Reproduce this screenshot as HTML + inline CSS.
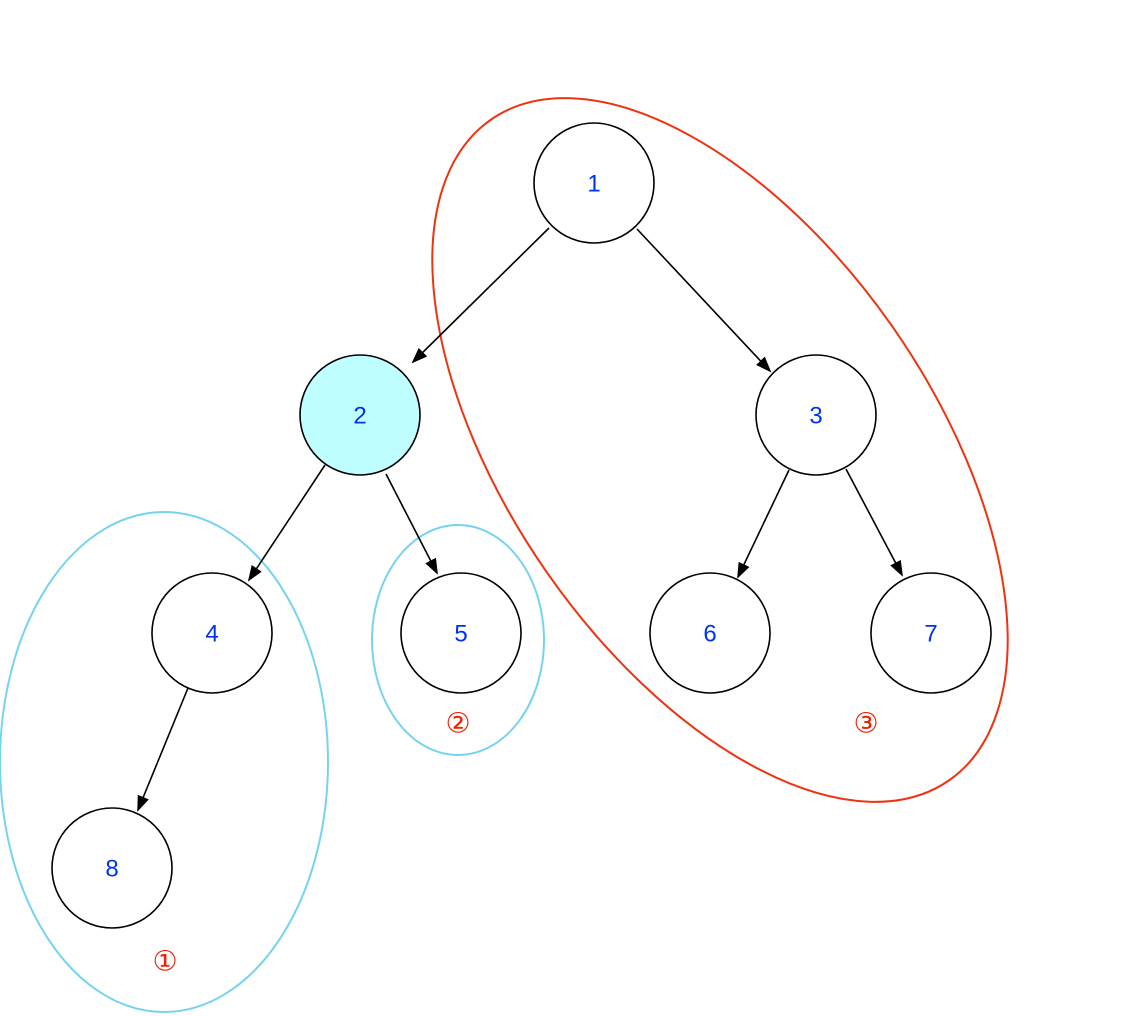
<!DOCTYPE html>
<html><head><meta charset="utf-8"><style>body{margin:0;background:#fff}svg{display:block}</style></head>
<body>
<svg width="1124" height="1016" viewBox="0 0 1124 1016" xmlns="http://www.w3.org/2000/svg">
<defs>
<marker id="b" markerWidth="16" markerHeight="16" refX="14" refY="8" orient="auto" markerUnits="userSpaceOnUse" viewBox="0 0 16 16"><path d="M0,2 L16,8 L0,14 z" fill="#000"/></marker></defs>
<ellipse cx="164" cy="762" rx="164" ry="250" fill="none" stroke="#76d3f0" stroke-width="2"/>
<ellipse cx="458" cy="640" rx="86" ry="115" fill="none" stroke="#76d3f0" stroke-width="2"/>
<ellipse cx="720" cy="450" rx="402" ry="212" transform="rotate(55.3 720 450)" fill="none" stroke="#ee3311" stroke-width="2"/>
<g stroke="#000" stroke-width="1.6" marker-end="url(#b)">
<line x1="549" y1="228" x2="413" y2="362"/>
<line x1="637" y1="229" x2="770" y2="371"/>
<line x1="325" y1="465" x2="249" y2="580"/>
<line x1="386" y1="474" x2="437" y2="573"/>
<line x1="789" y1="470" x2="738" y2="577"/>
<line x1="846" y1="469" x2="902" y2="575"/>
<line x1="188" y1="688" x2="138" y2="810"/>
</g>
<g stroke="#000" stroke-width="1.6" fill="#fff">
<circle cx="594" cy="183" r="60"/>
<circle cx="360" cy="415" r="60" fill="#c0ffff"/>
<circle cx="816" cy="415" r="60"/>
<circle cx="212" cy="633" r="60"/>
<circle cx="461" cy="633" r="60"/>
<circle cx="710" cy="633" r="60"/>
<circle cx="931" cy="633" r="60"/>
<circle cx="112" cy="868" r="60"/>
</g>
<g font-family="Liberation Sans, sans-serif" font-size="24" fill="#0033ee" text-anchor="middle" dominant-baseline="central">
<text x="594" y="184">1</text><text x="360" y="416">2</text><text x="816" y="416">3</text>
<text x="212" y="634">4</text><text x="461" y="634">5</text><text x="710" y="634">6</text>
<text x="931" y="634">7</text><text x="112" y="869">8</text>
</g>
<g font-family="Liberation Serif, DejaVu Serif, serif" font-size="28" fill="#ee2200" text-anchor="middle" dominant-baseline="central">
<text x="165" y="962">①</text><text x="458" y="724">②</text><text x="866" y="724">③</text>
</g>
</svg>
</body></html>
